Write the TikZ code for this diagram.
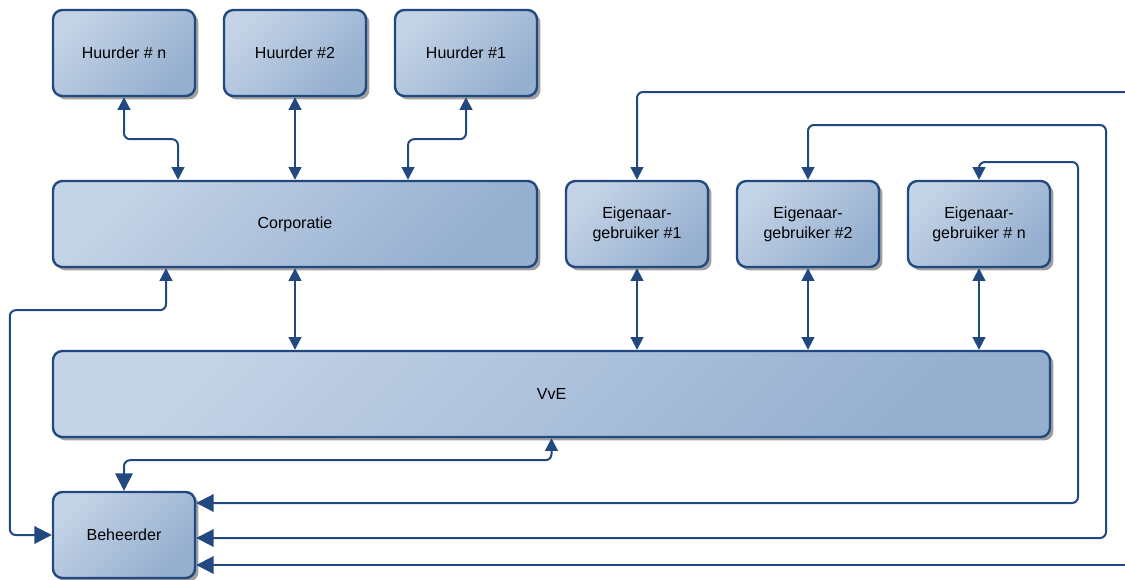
\documentclass[tikz,border=0pt]{standalone}
\usepackage{fontspec}
\setmainfont{Liberation Sans}
\usetikzlibrary{arrows.meta,calc,shadows}
\definecolor{edge}{HTML}{22497F}
\definecolor{boxlight}{HTML}{C4D3E6}
\definecolor{boxdark}{HTML}{95AFCF}
\definecolor{shade}{HTML}{A0A0A0}
\tikzset{
  tipS/.tip={Triangle[length=9.5pt,width=9.5pt]},
  tipL/.tip={Triangle[length=13pt,width=13pt]},
  unit/.style={draw=edge, line width=1.8pt, rounded corners=7pt,
    top color=boxlight, bottom color=boxdark, shading angle=45,
    minimum width=106.5pt, minimum height=64.5pt, inner sep=0pt,
    align=center, font=\fontsize{12pt}{15pt}\selectfont,
    drop shadow={shadow xshift=2.6pt, shadow yshift=-2.6pt, fill=shade, opacity=1}},
  link/.style={draw=edge, line width=1.5pt, rounded corners=4.5pt}
}
\begin{document}
\begin{tikzpicture}[x=0.75pt,y=-0.75pt]
\useasboundingbox (0,0) rectangle (1125,579);

% top row: tenants
\node[unit] (hn) at (124,53) {Huurder \# n};
\node[unit] (h2) at (295,53) {Huurder \#2};
\node[unit] (h1) at (466,53) {Huurder \#1};

% middle row: housing corporation and owner-occupants
\node[unit, minimum width=363pt] (corp) at (295,224) {Corporatie};
\node[unit] (e1) at (637,224) {Eigenaar-\\gebruiker \#1};
\node[unit] (e2) at (808,224) {Eigenaar-\\gebruiker \#2};
\node[unit] (en) at (979,224) {Eigenaar-\\gebruiker \# n};

% owners' association and manager
\node[unit, minimum width=747.75pt] (vve) at (551.5,394) {VvE};
\node[unit] (beh) at (124,535) {Beheerder};

% free ends running off the right side
\coordinate (out1) at (1125,92);
\coordinate (out2) at (1125,565);

% tenants <-> corporation
\draw[link, tipS-tipS] (hn.south) -- ++(0,42) -| ($(corp.north)+(-117,0)$);
\draw[link, tipS-tipS] (h2.south) -- (corp.north);
\draw[link, tipS-tipS] (h1.south) -- ++(0,42) -| ($(corp.north)+(113,0)$);

% corporation and owners <-> VvE
\draw[link, tipS-tipS] (corp.south) -- (vve.north -| corp.south);
\draw[link, tipS-tipS] (e1.south) -- (vve.north -| e1.south);
\draw[link, tipS-tipS] (e2.south) -- (vve.north -| e2.south);
\draw[link, tipS-tipS] (en.south) -- (vve.north -| en.south);

% connections to the manager
\draw[link, tipS-tipL] ($(corp.south)+(-129,0)$) -- ++(0,42) -| ($(beh.west)+(-42,0)$) -- (beh.west);
\draw[link, tipS-tipL] (vve.south) -- ++(0,22) -| (beh.north);
\draw[link, tipS-tipL] (e2.north) |- (1106,125) |- ($(beh.east)+(0,3)$);
\draw[link, tipS-tipL] (en.north) |- (1078,162) |- ($(beh.east)+(0,-32)$);
\draw[link, -tipL] (out2) -- (beh.east |- out2);
\draw[link, tipS-] (e1.north) |- (out1);
\end{tikzpicture}
\end{document}
